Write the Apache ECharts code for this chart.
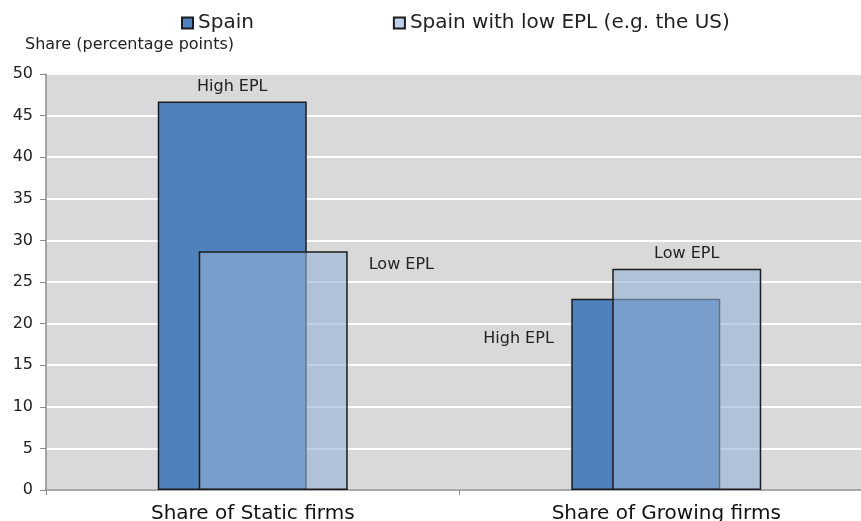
<!DOCTYPE html>
<html>
<head>
<meta charset="utf-8">
<script src="https://cdn.jsdelivr.net/npm/echarts@6/dist/echarts.min.js"></script>
<style>
  html, body { margin: 0; padding: 0; background: #fff; }
  #main { width: 861px; height: 521px; }
</style>
</head>
<body>
<div id="main"></div>
<script>
var categories = ['Share of Static firms', 'Share of Growing firms'];
var spainValues = [46.7, 23.0];
var lowEplValues = [28.7, 26.6];
var spainLabels = ['High EPL', 'High EPL'];
var lowEplLabels = ['Low EPL', 'Low EPL'];
var seriesNames = ['Spain', 'Spain with low EPL (e.g. the US)'];

var myChart = echarts.init(document.getElementById('main'));

// label placement for each bar (style only)
var spainLabelPos = ['top', [-88, 32]];
var lowLabelPos = [[170, 6], 'top'];

var spainData = spainValues.map(function (v, i) {
    return { value: v, label: { position: spainLabelPos[i], formatter: spainLabels[i] } };
});
var lowData = lowEplValues.map(function (v, i) {
    return { value: v, label: { position: lowLabelPos[i], formatter: lowEplLabels[i] } };
});

var font = 'DejaVu Sans, Liberation Sans, sans-serif';

var labelStyle = {
    show: true,
    fontFamily: font,
    fontSize: 16,
    color: '#222',
    distance: 7
};

myChart.setOption({
    animation: false,
    textStyle: { fontFamily: font },
    legend: {
        top: 8,
        left: 176,
        itemGap: 139,
        itemWidth: 11,
        itemHeight: 11,
        icon: 'rect',
        textStyle: { fontSize: 20, color: '#222', fontFamily: font },
        data: seriesNames
    },
    grid: {
        left: 46,
        top: 74,
        width: 827,
        height: 416,
        outerBoundsMode: 'none',
        show: true,
        backgroundColor: '#d9d9d9',
        borderWidth: 0
    },
    xAxis: {
        type: 'category',
        data: categories,
        axisLine: { lineStyle: { color: '#8c8c8c', width: 1.5 } },
        axisTick: { show: true, length: 5, lineStyle: { color: '#8c8c8c' } },
        axisLabel: { fontSize: 20, color: '#111', margin: 14, fontFamily: font }
    },
    yAxis: {
        type: 'value',
        min: 0,
        max: 50,
        interval: 5,
        name: 'Share (percentage points)',
        nameLocation: 'end',
        nameGap: 21,
        nameTextStyle: { fontSize: 16, color: '#222', align: 'left', padding: [0, 0, 0, -21], fontFamily: font },
        axisLine: { show: true, lineStyle: { color: '#8c8c8c', width: 1.5 } },
        axisTick: { show: true, length: 6, lineStyle: { color: '#8c8c8c' } },
        axisLabel: { fontSize: 16, color: '#222', margin: 13, fontFamily: font },
        splitLine: { lineStyle: { color: '#ffffff', width: 2 } }
    },
    series: [{
        name: seriesNames[0],
        type: 'bar',
        barWidth: 149,
        barGap: '-72.5%',
        itemStyle: { color: '#4f81bd', borderColor: '#1c1c1c', borderWidth: 1.5 },
        label: labelStyle,
        data: spainData
    }, {
        name: seriesNames[1],
        type: 'bar',
        barWidth: 149,
        itemStyle: { color: 'rgba(149,179,215,0.6)', borderColor: '#1c1c1c', borderWidth: 1.5 },
        label: labelStyle,
        data: lowData
    }]
});
</script>
</body>
</html>
